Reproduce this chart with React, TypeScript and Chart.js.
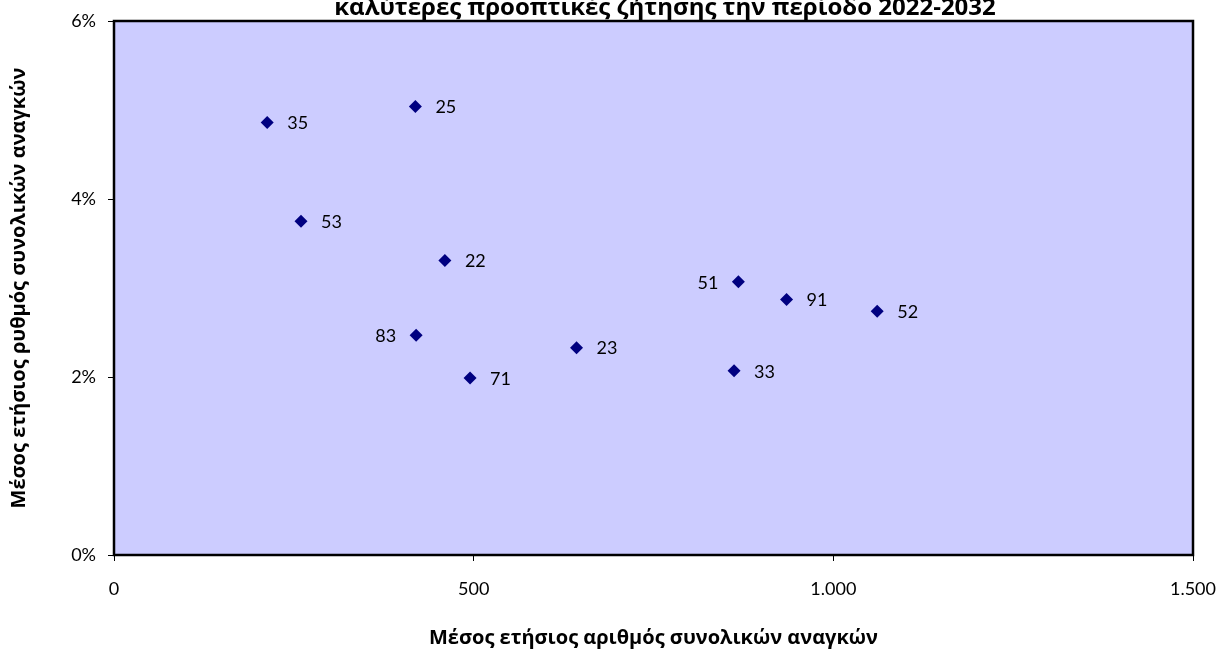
import React, { useEffect, useRef } from "react";
import { Chart, registerables } from "chart.js";

Chart.register(...registerables);

const codes = ["35", "25", "53", "22", "83", "71", "23", "51", "91", "52", "33"];
const avgNeeds = [213, 419, 260, 460, 420, 495, 643, 868, 935, 1061, 862];
const growthRate = [4.86, 5.04, 3.75, 3.31, 2.47, 1.99, 2.33, 3.07, 2.87, 2.74, 2.07];
const leftLabelCodes = ["51", "83"];
const xTicks = [0, 500, 1000, 1500];
const yTicks = [0, 2, 4, 6];

const titleText = "καλύτερες προοπτικές ζήτησης την περίοδο 2022-2032";
const xTitle = "Μέσος ετήσιος αριθμός συνολικών αναγκών";
const yTitle = "Μέσος ετήσιος ρυθμός συνολικών αναγκών";

const FONT = "Lato, 'Open Sans', sans-serif";
const TFONT = "'Open Sans', Lato, sans-serif";

const fmtThousands = (v: number) =>
  String(Math.round(v)).replace(/\B(?=(\d{3})+(?!\d))/g, ".");

const decorPlugin = {
  id: "decor",
  beforeDatasetsDraw(chart: any) {
    const { ctx, chartArea: a } = chart;
    ctx.save();
    ctx.fillStyle = "#CCCCFF";
    ctx.fillRect(a.left, a.top, a.right - a.left, a.bottom - a.top);
    ctx.strokeStyle = "#000000";
    ctx.lineWidth = 2.5;
    ctx.strokeRect(a.left, a.top, a.right - a.left, a.bottom - a.top);
    ctx.restore();
  },
  afterDraw(chart: any) {
    const { ctx, chartArea: a } = chart;
    const meta = chart.getDatasetMeta(0);
    ctx.save();
    ctx.fillStyle = "#000000";
    ctx.font = `18px ${FONT}`;
    ctx.textBaseline = "middle";
    meta.data.forEach((pt: any, i: number) => {
      const code = codes[i];
      if (leftLabelCodes.includes(code)) {
        ctx.textAlign = "right";
        ctx.fillText(code, pt.x - 20, pt.y + 1);
      } else {
        ctx.textAlign = "left";
        ctx.fillText(code, pt.x + 20, pt.y + 1);
      }
    });
    // title (cut at top)
    ctx.font = `bold 24px ${TFONT}`;
    ctx.textAlign = "center";
    ctx.textBaseline = "alphabetic";
    ctx.fillText(titleText, 665, 15);
    // axis titles
    ctx.font = `bold 20px ${TFONT}`;
    ctx.textBaseline = "middle";
    ctx.fillText(xTitle, (a.left + a.right) / 2, 638);
    ctx.translate(19, (a.top + a.bottom) / 2);
    ctx.rotate(-Math.PI / 2);
    ctx.fillText(yTitle, 0, 0);
    ctx.restore();
  },
};

export default function App() {
  const ref = useRef<HTMLCanvasElement | null>(null);
  useEffect(() => {
    if (!ref.current) return;
    const chart = new Chart(ref.current, {
      type: "scatter",
      data: {
        datasets: [
          {
            label: "data",
            data: avgNeeds.map((x, i) => ({ x, y: growthRate[i] })),
            pointStyle: "rectRot",
            pointRadius: 6.5,
            pointBackgroundColor: "#000080",
            pointBorderColor: "#000080",
            pointBorderWidth: 0,
          },
        ],
      },
      options: {
        animation: false,
        responsive: false,
        maintainAspectRatio: false,
        layout: { padding: { top: 21, right: 36, left: 0, bottom: 0 } },
        plugins: {
          legend: { display: false },
          title: { display: false },
          tooltip: { enabled: false },
        },
        scales: {
          x: {
            type: "linear",
            min: 0,
            max: 1500,
            afterFit: (s: any) => {
              s.height = 95;
              s.paddingLeft = 0;
              s.paddingRight = 0;
            },
            afterBuildTicks: (s: any) => {
              s.ticks = xTicks.map((v) => ({ value: v }));
            },
            ticks: {
              color: "#000000",
              font: { family: FONT, size: 18 },
              padding: 17,
              maxRotation: 0,
              callback: (v: any) => fmtThousands(Number(v)),
            },
            grid: {
              drawOnChartArea: false,
              drawTicks: true,
              tickLength: 6,
              color: "#000000",
              lineWidth: 1,
            },
            border: { display: true, color: "#000000", width: 2 },
          },
          y: {
            type: "linear",
            min: 0,
            max: 6,
            afterFit: (s: any) => {
              s.width = 114;
              s.paddingTop = 0;
              s.paddingBottom = 0;
            },
            afterBuildTicks: (s: any) => {
              s.ticks = yTicks.map((v) => ({ value: v }));
            },
            ticks: {
              color: "#000000",
              font: { family: FONT, size: 18 },
              padding: 12,
              callback: (v: any) => `${v}%`,
            },
            grid: {
              drawOnChartArea: false,
              drawTicks: true,
              tickLength: 6,
              color: "#000000",
              lineWidth: 1,
            },
            border: { display: true, color: "#000000", width: 2 },
          },
        },
      },
      plugins: [decorPlugin],
    });
    return () => chart.destroy();
  }, []);
  return (
    <div style={{ position: "absolute", left: 0, top: 0, width: 1229, height: 650, background: "#ffffff" }}>
      <canvas ref={ref} width={1229} height={650} style={{ width: 1229, height: 650, display: "block" }} />
    </div>
  );
}
